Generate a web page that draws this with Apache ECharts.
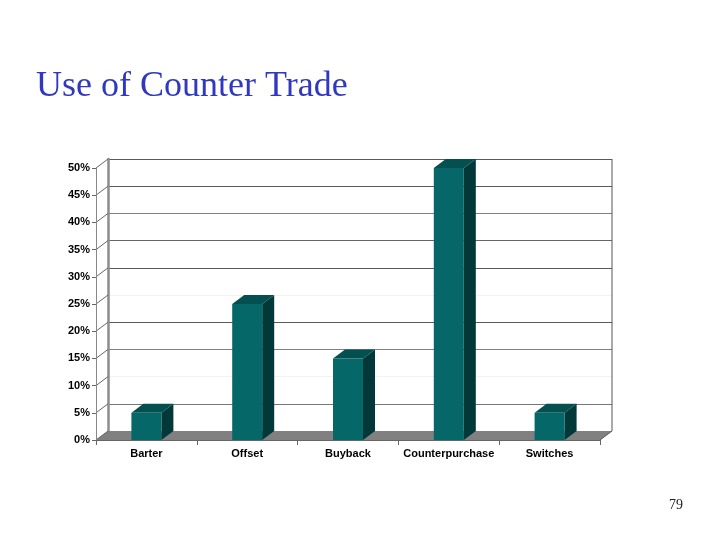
<!DOCTYPE html>
<html><head><meta charset="utf-8">
<style>html,body{margin:0;padding:0;background:#fff}#c{width:720px;height:540px}</style>
<script src="https://cdn.jsdelivr.net/npm/echarts@6/dist/echarts.min.js"></script>
</head><body><div id="c"></div>
<script>
const categories = ['Barter','Offset','Buyback','Counterpurchase','Switches'];
const values = [5,25,15,50,5];
const gridColors = ['#777777','#777777','#f2f2f2','#808080','#5a5a5a','#f2f2f2','#5a5a5a','#666666','#808080','#5a5a5a','#5a5a5a'];
const yTicks = [0,5,10,15,20,25,30,35,40,45,50];
const DX = 12, DY = -9;

function barItem(params, api){
  const v = api.value(1), i = api.value(0);
  const top = api.coord([i, v]), base = api.coord([i, 0]);
  const w = 30, l = top[0]-w/2, r = top[0]+w/2, t = top[1], b = base[1];
  return {type:'group', children:[
    {type:'polygon', shape:{points:[[r,t],[r+DX,t+DY],[r+DX,b+DY],[r,b]]}, style:{fill:'#033838'}},
    {type:'polygon', shape:{points:[[l,t],[l+DX,t+DY],[r+DX,t+DY],[r,t]]}, style:{fill:'#045050'}},
    {type:'rect', shape:{x:l,y:t,width:w,height:b-t}, style:{fill:'#056767'}}
  ]};
}
function plotEnds(api){
  const half = api.size([1,0])[0]/2;
  const a = api.coord([0,0]), b = api.coord([categories.length-1,0]);
  return {left:a[0]-half, right:b[0]+half, y:a[1]};
}
function floorItem(params, api){
  const e = plotEnds(api);
  return {type:'polygon', shape:{points:[[e.left,e.y],[e.left+DX,e.y+DY],[e.right+DX,e.y+DY],[e.right,e.y]]}, style:{fill:'#808080'}};
}
function slantItem(params, api){
  const e = plotEnds(api);
  const y = api.coord([0, api.value(0)])[1];
  return {type:'line', shape:{x1:e.left,y1:y,x2:e.left+DX,y2:y+DY}, style:{stroke:'#666666',lineWidth:1}};
}
function rightItem(params, api){
  const e = plotEnds(api);
  const topY = api.coord([0,50])[1];
  return {type:'group', children:[
    {type:'line', shape:{x1:e.right,y1:e.y,x2:e.right+DX,y2:e.y+DY}, style:{stroke:'#555555',lineWidth:1}},
    {type:'line', shape:{x1:e.right+DX,y1:e.y+DY,x2:e.right+DX,y2:topY+DY}, style:{stroke:'#555555',lineWidth:1}}
  ]};
}

const chart = echarts.init(document.getElementById('c'), null, {renderer:'canvas'});
chart.setOption({
  backgroundColor:'#fff',
  animation:false,
  title:[
    {text:'Use of Counter Trade', left:36, top:69, padding:0, textStyle:{fontFamily:'Liberation Serif',fontSize:36,fontWeight:'normal',color:'#3038c0'}},
    {text:'79', left:669, top:498, padding:0, textStyle:{fontFamily:'Liberation Serif',fontSize:14,fontWeight:'normal',color:'#222222'}}
  ],
  grid:[
    {left:96, top:168, width:504, height:272},
    {left:108, top:159, width:504, height:272, show:false}
  ],
  xAxis:[
    {type:'category', gridIndex:0, data:categories, z:5,
     axisLine:{lineStyle:{color:'#666666'}}, axisTick:{show:true,alignWithLabel:false,length:5,lineStyle:{color:'#666666'}},
     axisLabel:{fontFamily:'Liberation Sans',fontSize:11,fontWeight:'bold',color:'#000000',margin:8,interval:0}},
    {type:'category', gridIndex:1, data:categories, axisLine:{show:false}, axisTick:{show:false}, axisLabel:{show:false}}
  ],
  yAxis:[
    {type:'value', gridIndex:0, min:0, max:50, interval:5, z:5,
     axisLine:{show:true,lineStyle:{color:'#888888'}}, axisTick:{show:true,length:4,lineStyle:{color:'#666666'}}, splitLine:{show:false},
     axisLabel:{fontFamily:'Liberation Sans',fontSize:11,fontWeight:'bold',color:'#000000',margin:6,formatter:'{value}%'}},
    {type:'value', gridIndex:1, min:0, max:50, interval:5,
     axisLabel:{show:false}, axisTick:{show:false},
     axisLine:{show:true,lineStyle:{color:'#8c8c8c',width:2.5}},
     splitLine:{show:true,lineStyle:{color:gridColors,width:1.2}}}
  ],
  series:[
    {type:'custom', xAxisIndex:0, yAxisIndex:0, z:3, silent:true, data:[[0]], clip:false, renderItem:floorItem},
    {type:'custom', xAxisIndex:0, yAxisIndex:0, z:3, silent:true, data:yTicks.map(t=>[t]), encode:{y:0}, clip:false, renderItem:slantItem},
    {type:'custom', xAxisIndex:0, yAxisIndex:0, z:3, silent:true, data:[[0]], clip:false, renderItem:rightItem},
    {type:'custom', xAxisIndex:0, yAxisIndex:0, z:4, silent:true, clip:false,
     data:values.map((v,i)=>[i,v]), encode:{x:0,y:1}, renderItem:barItem}
  ]
});
</script></body></html>
